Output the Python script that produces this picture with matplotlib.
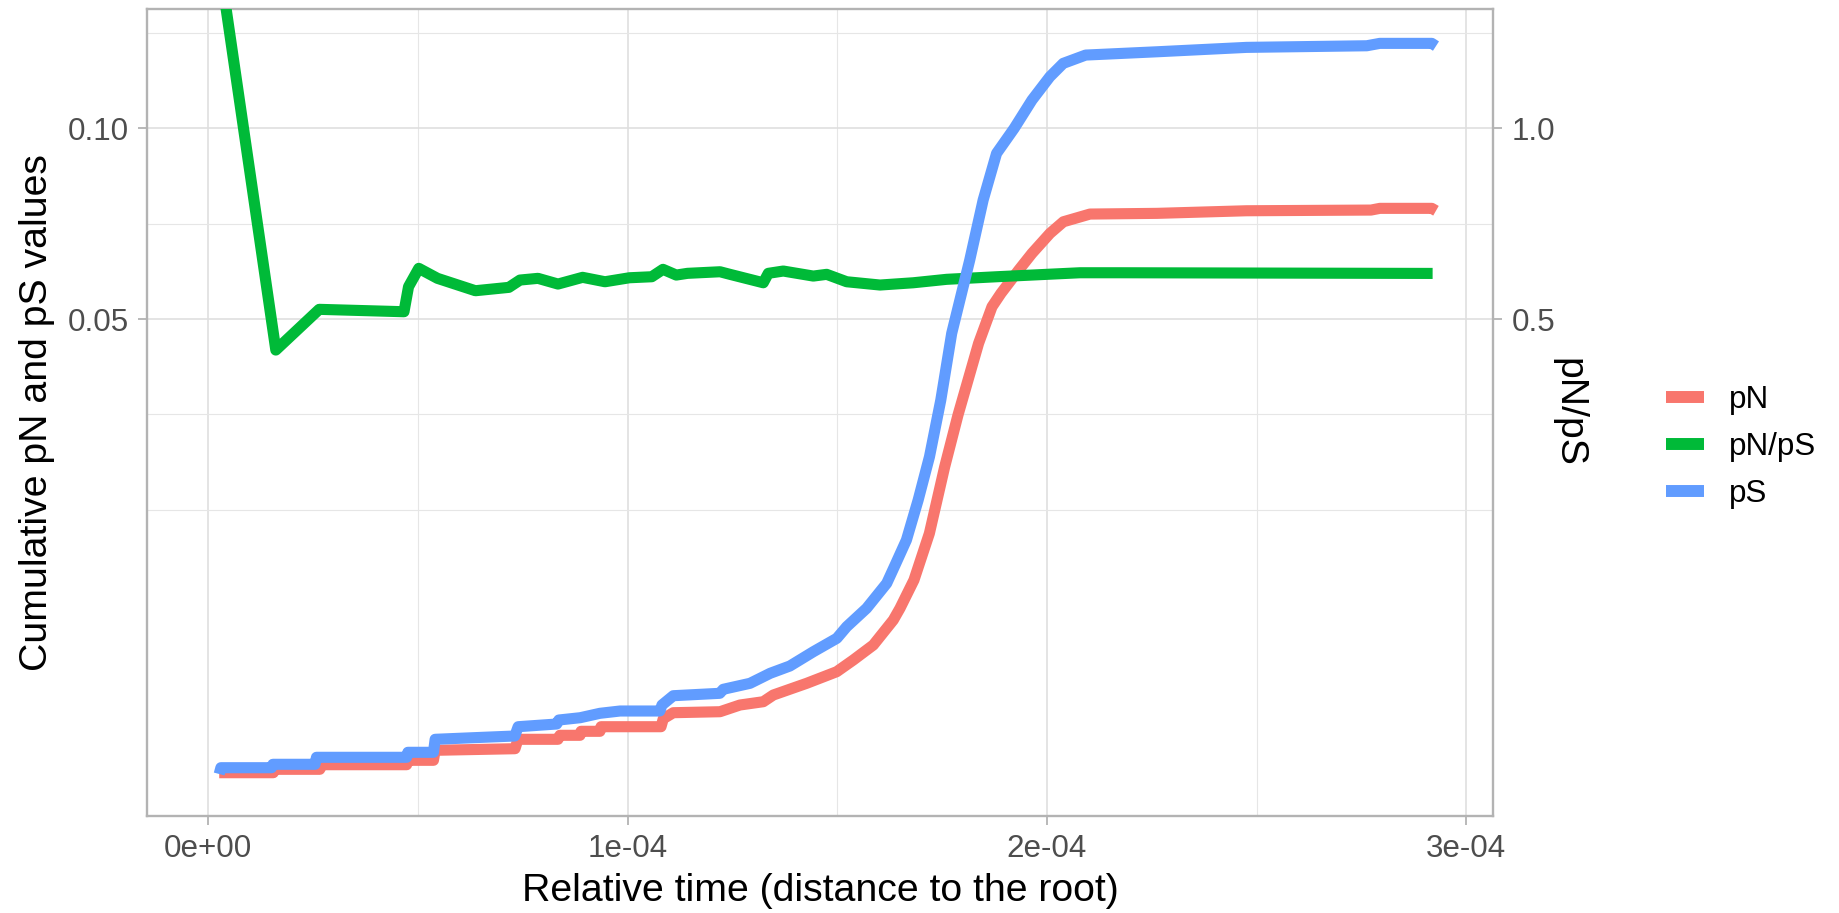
import numpy as np
import matplotlib
matplotlib.use("Agg")
import matplotlib.pyplot as plt
from matplotlib.lines import Line2D
from matplotlib.ticker import FixedLocator, FuncFormatter

plt.rcParams['font.family'] = ['Liberation Sans', 'DejaVu Sans']

# ---------------- data (x in units of 1e-4) ----------------
x_pS = np.array([0.026, 0.030, 0.151, 0.154, 0.2545, 0.258, 0.473, 0.476, 0.537, 0.541,
                 0.632, 0.731, 0.739, 0.831, 0.836, 0.887, 0.934, 0.982, 1.077, 1.082,
                 1.109, 1.220, 1.228, 1.292, 1.340, 1.387, 1.443, 1.499, 1.5225, 1.570,
                 1.618, 1.638, 1.665, 1.693, 1.720, 1.747, 1.773, 1.816, 1.848, 1.880,
                 1.922, 1.9645, 2.007, 2.039, 2.0925, 2.263, 2.476, 2.763, 2.794, 2.918,
                 2.928]) * 1e-4
pS = np.array([6.9e-6, 3.23e-5, 3.23e-5, 5.38e-5, 5.38e-5, 1.152e-4, 1.152e-4, 1.732e-4,
               1.732e-4, 3.793e-4, 4.102e-4, 4.443e-4, 6.551e-4, 7.239e-4, 8.323e-4,
               8.98e-4, 1.0306e-3, 1.1036e-3, 1.1036e-3, 1.3057e-3, 1.6525e-3, 1.7486e-3,
               1.9149e-3, 2.1784e-3, 2.6553e-3, 3.0333e-3, 3.8465e-3, 4.6962e-3, 5.50e-3,
               6.9056e-3, 9.0707e-3, 0.010843, 0.013519, 0.018414, 0.024564, 0.033952,
               0.046941, 0.063635, 0.079186, 0.092465, 0.1000, 0.10888, 0.11647, 0.12096,
               0.12378, 0.12491, 0.12642, 0.12698, 0.12781, 0.12781, 0.12687])

x_pN = np.array([0.026, 0.155, 0.159, 0.266, 0.270, 0.473, 0.476, 0.537, 0.541, 0.7315,
                 0.7386, 0.834, 0.8385, 0.8865, 0.889, 0.934, 0.9367, 1.0797, 1.0851, 1.109,
                 1.2204, 1.268, 1.3236, 1.3475, 1.4271, 1.4987, 1.5383, 1.586, 1.6337, 1.6496,
                 1.683, 1.7198, 1.7563, 1.788, 1.8371, 1.8691, 1.8905, 1.9329, 1.9645, 2.0074,
                 2.0394, 2.1028, 2.2626, 2.4758, 2.773, 2.7943, 2.918, 2.928]) * 1e-4
pN = np.array([1.059e-5, 1.059e-5, 2.406e-5, 2.406e-5, 5.097e-5, 5.097e-5, 8.605e-5, 8.605e-5,
               1.9974e-4, 2.223e-4, 3.793e-4, 3.793e-4, 4.587e-4, 4.587e-4, 5.457e-4,
               5.457e-4, 6.551e-4, 6.551e-4, 8.691e-4, 1.0494e-3, 1.0811e-3, 1.3057e-3,
               1.4241e-3, 1.680e-3, 2.1784e-3, 2.736e-3, 3.3628e-3, 4.2607e-3, 5.9932e-3,
               6.9056e-3, 9.378e-3, 0.014286, 0.023064, 0.031322, 0.044859, 0.052706,
               0.055738, 0.061207, 0.065287, 0.070347, 0.073365, 0.075406, 0.075592,
               0.076288, 0.076474, 0.076934, 0.076934, 0.076288])

x_ratio = np.array([0.025, 0.161, 0.2645, 0.4667, 0.4775, 0.502, 0.5466, 0.637, 0.7169, 0.7434,
                    0.7863, 0.834, 0.8927, 0.9461, 1.0045, 1.0577, 1.0844, 1.1161, 1.1429,
                    1.2204, 1.2442, 1.3236, 1.3356, 1.3713, 1.4429, 1.4748, 1.5225, 1.602,
                    1.6814, 1.761, 1.8803, 1.9995, 2.0789, 2.1744, 2.920]) * 1e-4
pNpS = np.array([1.59, 0.4349, 0.5213, 0.516, 0.5726, 0.6162, 0.5923, 0.5634, 0.5712, 0.5883,
                 0.5923, 0.5789, 0.5947, 0.5843, 0.5937, 0.5961, 0.6138, 0.6001, 0.6042,
                 0.608, 0.6018, 0.5819, 0.6042, 0.6097, 0.5977, 0.6018, 0.5843, 0.5766,
                 0.5819, 0.59, 0.5961, 0.6018, 0.6056, 0.6056, 0.604])

sec_factor = 10.0  # right axis = left axis * 10

x_ticks = [0, 1e-4, 2e-4, 3e-4]
x_minor = [0.5e-4, 1.5e-4, 2.5e-4]
y_ticks = [0.05, 0.10]
y2_ticks = [0.5, 1.0]

series_labels = ['pN', 'pN/pS', 'pS']
colors = {'pN': '#F8766D', 'pN/pS': '#00BA38', 'pS': '#619CFF'}

# ---------------- figure ----------------
W, H, DPI = 1839, 913, 100
fig = plt.figure(figsize=(W / DPI, H / DPI), dpi=DPI)
ax = fig.add_axes([147.3 / W, 1 - 815.7 / H, (1493 - 147.3) / W, (815.7 - 9) / H])


def fwd(y):
    y = np.asarray(y, dtype=float)
    return np.sign(y) * np.sqrt(np.abs(y))


def inv(t):
    t = np.asarray(t, dtype=float)
    return np.sign(t) * t ** 2


ax.set_yscale('function', functions=(fwd, inv))

lw = 8.0
ax.plot(x_pN, pN, color=colors['pN'], lw=lw, solid_capstyle='butt', solid_joinstyle='round', zorder=3)
ax.plot(x_ratio, pNpS / sec_factor, color=colors['pN/pS'], lw=lw, solid_capstyle='butt',
        solid_joinstyle='round', zorder=4)
ax.plot(x_pS, pS, color=colors['pS'], lw=lw, solid_capstyle='butt', solid_joinstyle='round', zorder=5)

ax.set_xlim(-0.1455e-4, 3.064e-4)
ylo, yhi = -(0.01763 ** 2), 0.3742 ** 2
ax.set_ylim(ylo, yhi)

# ticks
ax.xaxis.set_major_locator(FixedLocator(x_ticks))
ax.xaxis.set_minor_locator(FixedLocator(x_minor))
ax.xaxis.set_major_formatter(FuncFormatter(lambda v, p: f"{v:.0e}"))
ax.yaxis.set_major_locator(FixedLocator(y_ticks))
s_maj = np.sqrt(y_ticks)
step = s_maj[1] - s_maj[0]
s_minor = [s_maj[0] - step, s_maj[0] - step / 2, s_maj[0] + step / 2, s_maj[1] + step / 2]
ax.yaxis.set_minor_locator(FixedLocator([s ** 2 for s in s_minor]))
ax.yaxis.set_major_formatter(FuncFormatter(lambda v, p: f"{v:.2f}"))

tick_col = '#B3B3B3'
lab_col = '#4D4D4D'
fs_tick = 22.6
fs_title = 28.3
ax.tick_params(which='major', length=6.5, width=1.3, color=tick_col, labelsize=fs_tick,
               labelcolor=lab_col, pad=7)
ax.tick_params(which='minor', length=0)

ax.grid(which='major', color='#DEDEDE', lw=1.15, zorder=0)
ax.grid(which='minor', color='#E6E6E6', lw=0.8, zorder=0)
ax.set_axisbelow(True)
for sp in ax.spines.values():
    sp.set_color(tick_col)
    sp.set_linewidth(1.7)

ax.set_xlabel('Relative time (distance to the root)', fontsize=fs_title, labelpad=6)
ax.set_ylabel('Cumulative pN and pS values', fontsize=fs_title, labelpad=9)

# secondary axis (pN/pS)
ax2 = ax.twinx()
ax2.set_yscale('function', functions=(fwd, inv))
ax2.set_ylim(ylo * sec_factor, yhi * sec_factor)
ax2.yaxis.set_major_locator(FixedLocator(y2_ticks))
ax2.yaxis.set_minor_locator(FixedLocator([]))
ax2.yaxis.set_major_formatter(FuncFormatter(lambda v, p: f"{v:.1f}"))
ax2.tick_params(which='major', length=6.5, width=1.3, color=tick_col, labelsize=fs_tick,
                labelcolor=lab_col, pad=7)
for sp in ax2.spines.values():
    sp.set_visible(False)
ax2.set_ylabel('pN/pS', fontsize=fs_title, rotation=270, va='bottom', labelpad=-3.5)

# legend
handles = [Line2D([], [], color=colors[k], lw=8.6, solid_capstyle='butt') for k in series_labels]
fig.legend(handles, series_labels, loc='center left', bbox_to_anchor=(1666 / W, 1 - 447 / H),
           frameon=False, fontsize=fs_tick, handlelength=1.2, handletextpad=0.8,
           labelspacing=0.53, borderpad=0, borderaxespad=0)

fig.savefig('out.png', dpi=DPI)
